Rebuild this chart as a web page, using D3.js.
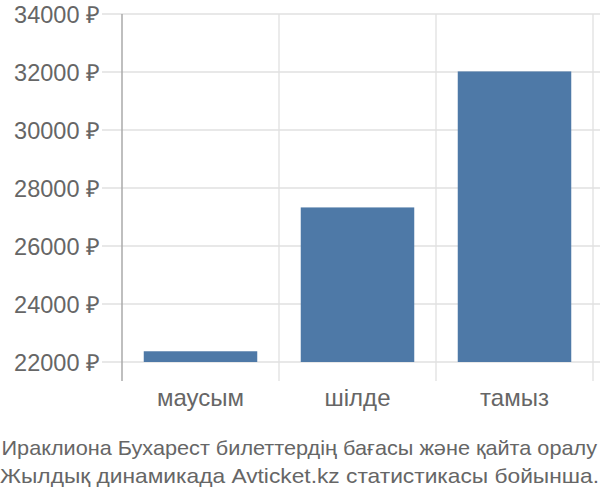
<!DOCTYPE html>
<html><head><meta charset="utf-8">
<script src="https://cdn.jsdelivr.net/npm/d3@7"></script>
<style>body{margin:0;background:#fff}</style>
</head><body>
<script>
const categories = ["маусым", "шілде", "тамыз"];
const prices = [22370, 27330, 32020];
const yTicks = [22000, 24000, 26000, 28000, 30000, 32000, 34000];
const titleLines = ["Ираклиона Бухарест билеттердің бағасы және қайта оралу", "Жылдық динамикада Avticket.kz статистикасы бойынша."];

const W = 600, H = 500;
const svg = d3.select("body").append("svg").attr("width", W).attr("height", H);
const font = "'Liberation Sans', Arial, sans-serif";

const x = d3.scaleBand().domain(categories).range([122, 593]).paddingInner(0.277).paddingOuter(0.1385);
const y = d3.scaleLinear().domain([22000, 34000]).range([362, 14]);

// horizontal grid
svg.append("g").selectAll("line").data(yTicks).join("line")
  .attr("x1", 102).attr("x2", 600).attr("y1", d => y(d)).attr("y2", d => y(d))
  .attr("stroke", "#e0e0e0").attr("stroke-width", 1.3);
// vertical grid (band boundaries)
const bounds = categories.map(c => x(c) - x.step() * x.paddingInner() / 2).concat([x(categories[2]) + x.bandwidth() + x.step() * x.paddingInner() / 2]);
svg.append("g").selectAll("line").data(bounds.slice(1)).join("line")
  .attr("x1", d => d).attr("x2", d => d).attr("y1", 14).attr("y2", 381)
  .attr("stroke", "#e0e0e0").attr("stroke-width", 1.3);

// bars
svg.append("g").selectAll("rect").data(prices).join("rect")
  .attr("x", (d, i) => x(categories[i])).attr("width", x.bandwidth())
  .attr("y", d => y(d)).attr("height", d => y(22000) - y(d))
  .attr("fill", "#4e79a7");

// y axis line
svg.append("line").attr("x1", 122).attr("x2", 122).attr("y1", 14).attr("y2", 381)
  .attr("stroke", "#aaa").attr("stroke-width", 1.5);

// y labels
const yAxis = d3.axisLeft(y).tickValues(yTicks).tickSize(0).tickPadding(22)
  .tickFormat(d => d + " ₽");
const gy = svg.append("g").attr("transform", "translate(122,0)").call(yAxis);
gy.select(".domain").remove();
gy.selectAll("text").attr("font-family", font).attr("font-size", 23.5).attr("fill", "#666").attr("dy", "0.36em");

// x labels
const xAxis = d3.axisBottom(x).tickSize(0).tickPadding(0);
const gx = svg.append("g").attr("transform", "translate(0,362)").call(xAxis);
gx.select(".domain").remove();
gx.selectAll("text").attr("font-family", font).attr("font-size", 24).attr("fill", "#666").attr("dy", "0").attr("y", 44);

// title
const titleW = [597, 599];
svg.append("g").selectAll("text").data(titleLines).join("text")
  .attr("x", (d, i) => i === 0 ? 1.5 : 0).attr("y", (d, i) => 455 + i * 27.5)
  .attr("font-family", font).attr("font-size", 21).attr("fill", "#666")
  .attr("textLength", (d, i) => titleW[i] - (i === 0 ? 1.5 : 0)).attr("lengthAdjust", "spacingAndGlyphs")
  .text(d => d);
</script>
</body></html>
